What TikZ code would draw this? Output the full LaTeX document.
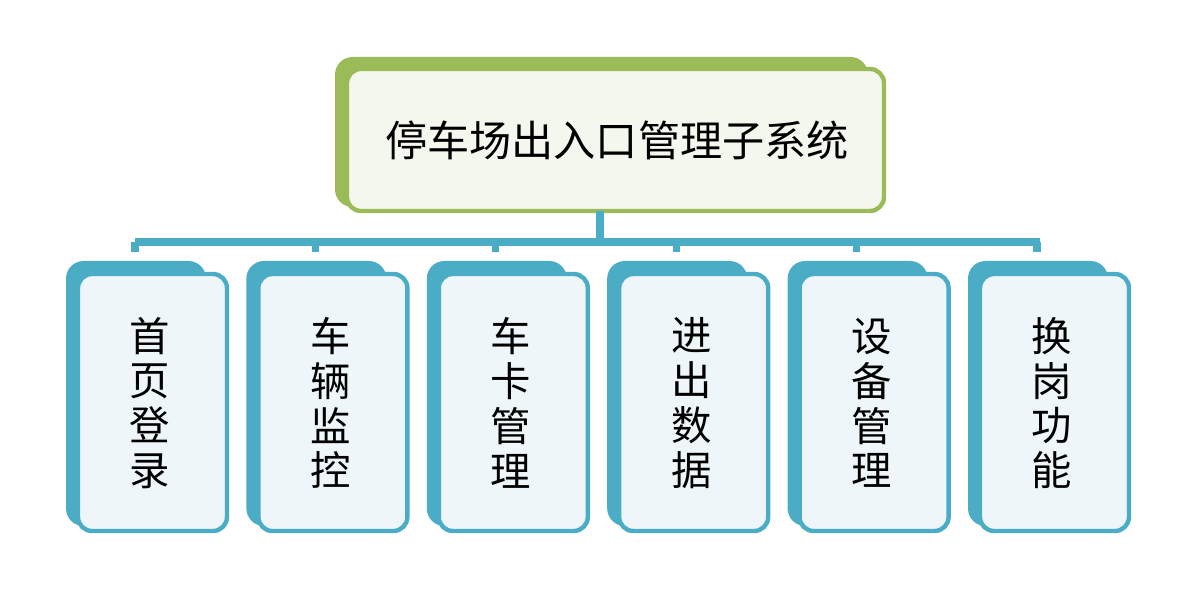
\documentclass[tikz,border=0pt]{standalone}
\usepackage{fontspec}
\newfontfamily\cjk{Noto Sans CJK SC}
\usetikzlibrary{positioning,calc}
\definecolor{leaf}{HTML}{9BBB59}
\definecolor{leaffill}{HTML}{F4F7EE}
\definecolor{sea}{HTML}{4BACC6}
\definecolor{seafill}{HTML}{EEF6F9}
\begin{document}
\begin{tikzpicture}[x=0.02cm,y=-0.02cm,
    backbox/.style={fill=#1,rounded corners=10pt},
    frontbox/.style={draw=#1,line width=2.5pt,rounded corners=8pt},
    bus/.style={draw=sea,line width=4pt}]
	\useasboundingbox (0,0) rectangle (1200,594);
	% root
	\fill[backbox=leaf] (335,57) rectangle (868,207);
	\draw[frontbox=leaf,fill=leaffill] (347,69) rectangle (884,211);
	\node[font=\cjk\fontsize{24}{30}\selectfont] (root) at (617,140) {停车场出入口管理子系统};
	\coordinate (rootS) at (600,211);
	\coordinate (hub) at (600,242);
	\draw[bus] (rootS) -- (hub);
	\draw[bus] (135,242) -- (1040,242);
	% children
	\foreach \i/\txt in {0/首\\页\\登\\录,1/车\\辆\\监\\控,2/车\\卡\\管\\理,3/进\\出\\数\\据,4/设\\备\\管\\理,5/换\\岗\\功\\能}{
		\pgfmathsetmacro{\bx}{66+180.4*\i}
		\fill[backbox=sea] (\bx,261) rectangle ({\bx+140},526);
		\draw[frontbox=sea,fill=seafill] ({\bx+12},274) rectangle ({\bx+161},531);
		\node[font=\cjk\fontsize{23}{25.5}\selectfont,align=center] (leaf\i) at ({\bx+84},403) {\txt};
		\coordinate (tap\i) at ({\bx+69},242);
		\draw[bus] (tap\i) -- ++(0,10);
	}
\end{tikzpicture}
\end{document}
